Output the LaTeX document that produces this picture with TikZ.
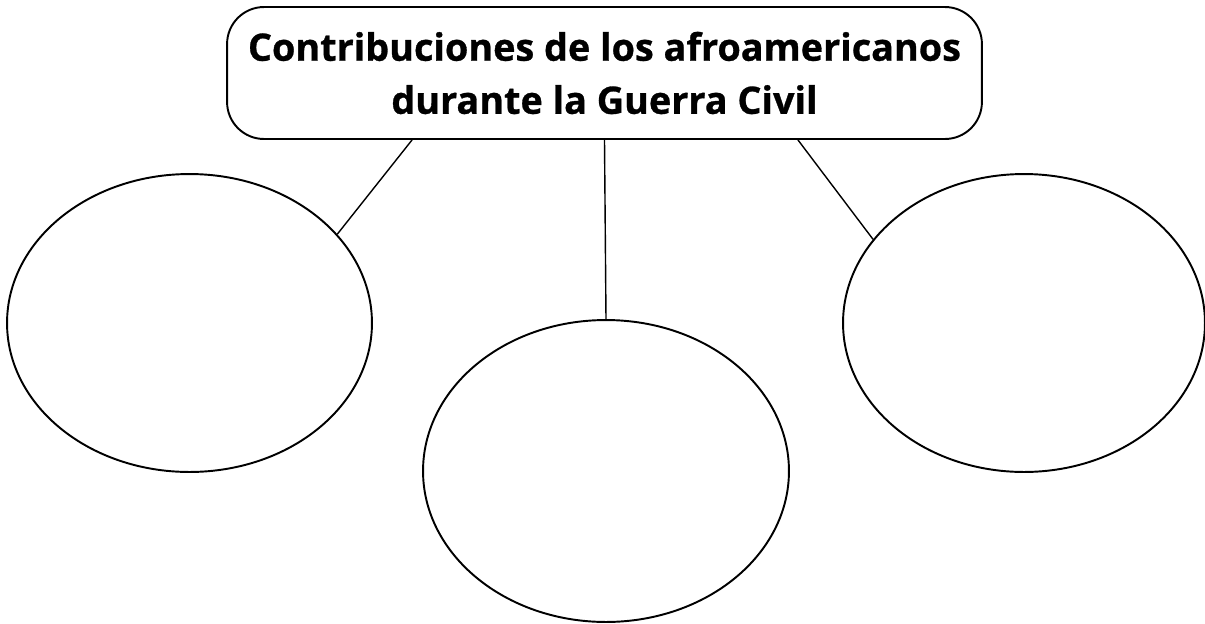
\documentclass[tikz,border=0pt]{standalone}
\usepackage{fontspec}
\setmainfont{Open Sans}[BoldFeatures={FakeBold=0.8}]
\usetikzlibrary{shapes.geometric}

\tikzset{
  titlebox/.style={draw,rounded corners=0.74cm,line width=1.1pt,
    minimum width=15.1cm,minimum height=2.64cm,align=center,
    font=\fontsize{21.5}{30.2}\selectfont\bfseries},
  bubble/.style={draw,ellipse,line width=1.1pt,inner sep=0pt},
  link/.style={line width=0.8pt}
}

\begin{document}
\begin{tikzpicture}[x=0.02cm,y=-0.02cm]
      \useasboundingbox (0,0) rectangle (1205,623);
      \node[titlebox] (title) at (604.5,73)
        {Contribuciones de los afroamericanos\\durante la Guerra Civil};
      \node[bubble,minimum width=7.3cm,minimum height=5.96cm] (left) at (189.5,323) {};
      \node[bubble,minimum width=7.32cm,minimum height=6.04cm] (mid) at (606,471) {};
      \node[bubble,minimum width=7.24cm,minimum height=5.96cm] (right) at (1024,323) {};
      \draw[link] ([xshift=-3.85cm]title.south) -- (left.31);
      \draw[link] (title.south) -- (mid.north);
      \draw[link] ([xshift=3.87cm]title.south) -- (right.151);
    \end{tikzpicture}
\end{document}
